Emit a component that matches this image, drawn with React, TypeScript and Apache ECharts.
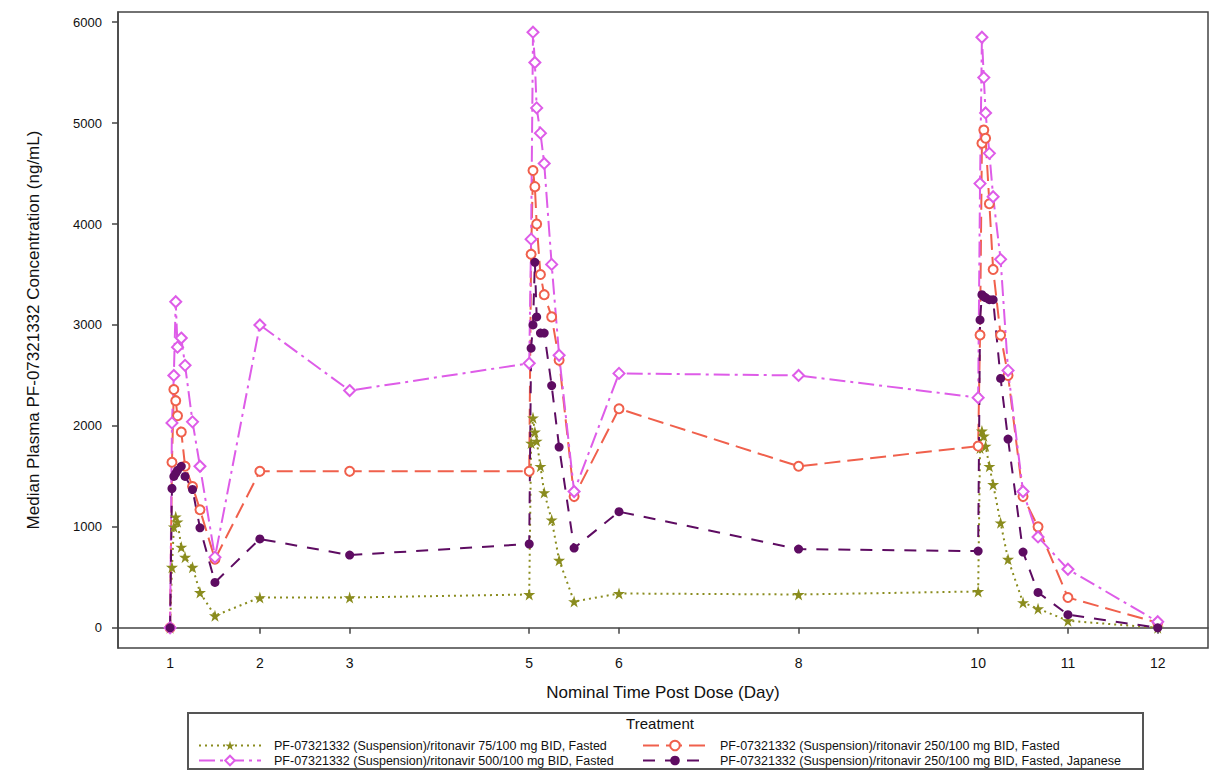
import React, { useEffect, useRef } from "react";
import * as echarts from "echarts";

const timeDays = [
  1, 1.021, 1.042, 1.063, 1.083, 1.125, 1.167, 1.25, 1.333, 1.5,
  2, 3,
  5, 5.021, 5.042, 5.063, 5.083, 5.125, 5.167, 5.25, 5.333, 5.5,
  6, 8,
  10, 10.021, 10.042, 10.063, 10.083, 10.125, 10.167, 10.25, 10.333, 10.5, 10.667, 11, 12,
];

const dose75Fasted = [
  0, 600, 1000, 1100, 1050, 800, 700, 600, 350, 120,
  300, 300,
  330, 1830, 2080, 1940, 1850, 1600, 1340, 1070, 670, 260,
  340, 330,
  360, 1780, 1950, 1900, 1800, 1600, 1420, 1040, 680, 250, 190, 70, 0,
];

const dose250Fasted = [
  0, 1640, 2360, 2250, 2100, 1940, 1600, 1400, 1170, 680,
  1550, 1550,
  1550, 3700, 4530, 4370, 4000, 3500, 3300, 3080, 2650, 1300,
  2170, 1600,
  1800, 2900, 4800, 4930, 4850, 4200, 3550, 2900, 2500, 1300, 1000, 300, 50,
];

const dose500Fasted = [
  0, 2030, 2500, 3230, 2780, 2870, 2600, 2040, 1600, 700,
  3000, 2350,
  2620, 3850, 5900, 5600, 5150, 4900, 4600, 3600, 2700, 1350,
  2520, 2500,
  2280, 4400, 5850, 5450, 5100, 4700, 4270, 3650, 2550, 1350, 900, 580, 60,
];

const dose250Japanese = [
  0, 1380, 1500, 1530, 1560, 1600, 1500, 1370, 990, 450,
  880, 720,
  830, 2770, 3000, 3620, 3080, 2920, 2920, 2400, 1790, 790,
  1150, 780,
  760, 3050, 3300, 3280, 3270, 3250, 3250, 2470, 1870, 750, 350, 130, 0,
];

const xTickDays = [1, 2, 3, 5, 6, 8, 10, 11, 12];
const yTickValues = [0, 1000, 2000, 3000, 4000, 5000, 6000];

const seriesNames = [
  "PF-07321332 (Suspension)/ritonavir 75/100 mg BID, Fasted",
  "PF-07321332 (Suspension)/ritonavir 250/100 mg BID, Fasted",
  "PF-07321332 (Suspension)/ritonavir 500/100 mg BID, Fasted",
  "PF-07321332 (Suspension)/ritonavir 250/100 mg BID, Fasted, Japanese",
];

const STAR =
  "path://M50,0 L61,35 L98,35 L68,57 L79,91 L50,70 L21,91 L32,57 L2,35 L39,35 Z";

const pair = (vals: number[]) => timeDays.map((t, i) => [t, vals[i]]);

export default function App() {
  const ref = useRef<HTMLDivElement>(null);
  useEffect(() => {
    document.body.style.margin = "0";
    if (!ref.current) return;
    const chart = echarts.init(ref.current, undefined, { renderer: "svg" });
    const font = "Liberation Sans, Arial, sans-serif";
    const mk = (
      name: string,
      vals: number[],
      color: string,
      symbol: string,
      symbolSize: number,
      dash: number[] | string
    ) => ({
      name,
      type: "line",
      data: pair(vals),
      symbol,
      symbolSize,
      showAllSymbol: true,
      itemStyle: { color, borderWidth: 1.5 },
      lineStyle: { color, width: 2, type: dash },
      emphasis: { disabled: true },
    });
    const legendText = {
      fontSize: 12.5,
      color: "#111",
      fontFamily: font,
      padding: [0, 0, 0, 8],
    };
    chart.setOption({
      animation: false,
      backgroundColor: "#ffffff",
      textStyle: { fontFamily: font },
      grid: {
        left: 118,
        top: 12,
        width: 1090,
        height: 636,
        show: true,
        borderColor: "#444",
        borderWidth: 1.5,
        backgroundColor: "#fff",
      },
      xAxis: {
        type: "value",
        min: 0.42,
        max: 12.56,
        name: "Nominal Time Post Dose (Day)",
        nameLocation: "middle",
        nameGap: 36,
        nameTextStyle: { fontSize: 17, color: "#111", fontFamily: font },
        axisLine: { show: true, lineStyle: { color: "#444", width: 1.5 } },
        axisTick: {
          show: true,
          customValues: xTickDays,
          length: 6,
          lineStyle: { color: "#444", width: 1.5 },
        },
        axisLabel: {
          customValues: xTickDays,
          fontSize: 14,
          color: "#111",
          margin: 8,
          fontFamily: font,
          formatter: (v: number) => String(v),
        },
        splitLine: { show: false },
      },
      yAxis: {
        type: "value",
        min: -200,
        max: 6100,
        name: "Median Plasma PF-07321332 Concentration (ng/mL)",
        nameLocation: "middle",
        nameGap: 76,
        nameRotate: 90,
        nameTextStyle: { fontSize: 17, color: "#111", fontFamily: font },
        axisLine: { show: true, lineStyle: { color: "#444", width: 1.5 } },
        axisTick: {
          show: true,
          customValues: yTickValues,
          length: 6,
          lineStyle: { color: "#444", width: 1.5 },
        },
        axisLabel: {
          customValues: yTickValues,
          fontSize: 13,
          color: "#111",
          margin: 16,
          fontFamily: font,
          formatter: (v: number) => String(v),
        },
        splitLine: { show: false },
      },
      legend: [
        {
          left: 193,
          top: 734,
          orient: "vertical",
          itemGap: 2,
          itemWidth: 62,
          itemHeight: 12,
          data: [seriesNames[0], seriesNames[2]],
          textStyle: legendText,
          selectedMode: false,
        },
        {
          left: 637,
          top: 734,
          orient: "vertical",
          itemGap: 2,
          itemWidth: 64,
          itemHeight: 12,
          data: [seriesNames[1], seriesNames[3]],
          textStyle: legendText,
          selectedMode: false,
        },
      ],
      graphic: [
        {
          type: "rect",
          shape: { x: 188, y: 713, width: 955, height: 56 },
          style: { fill: "none", stroke: "#555", lineWidth: 2 },
          silent: true,
        },
        {
          type: "text",
          x: 660,
          y: 716,
          style: {
            text: "Treatment",
            fontSize: 15,
            fontFamily: font,
            fill: "#111",
            textAlign: "center",
          },
          silent: true,
        },
      ],
      series: [
        mk(seriesNames[0], dose75Fasted, "#8A8C1E", STAR, 12, [2, 4]),
        mk(seriesNames[1], dose250Fasted, "#F0604C", "emptyCircle", 9, [16, 7]),
        mk(seriesNames[2], dose500Fasted, "#DE5CE8", "emptyDiamond", 11, [16, 5, 3, 5]),
        mk(seriesNames[3], dose250Japanese, "#5E0C62", "circle", 9, [12, 10]),
      ],
    });
    return () => chart.dispose();
  }, []);
  return <div ref={ref} style={{ width: 1214, height: 776 }} />;
}
